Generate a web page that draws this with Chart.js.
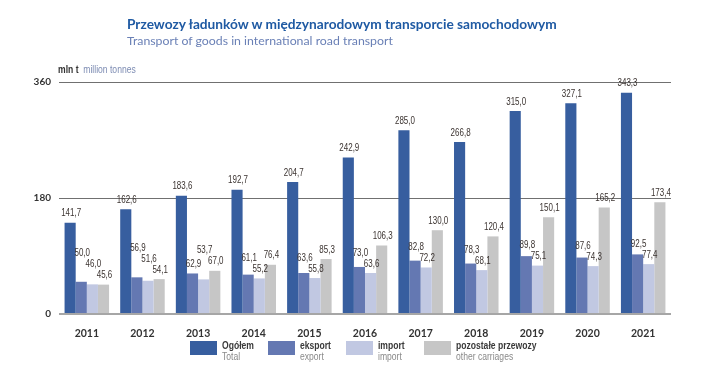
<!DOCTYPE html>
<html>
<head>
<meta charset="utf-8">
<script src="https://cdn.jsdelivr.net/npm/chart.js@4.4.1/dist/chart.umd.min.js"></script>
<style>
    html, body { margin: 0; padding: 0; background: #fff; }
    #wrap { position: relative; width: 711px; height: 377px; }
    #c { position: absolute; left: 0; top: 0; }
    .t { position: absolute; white-space: nowrap; font-family: Lato, 'Noto Sans', sans-serif; }
    .narrow { font-family: 'Liberation Sans', Arial, sans-serif; transform: scaleX(0.78); transform-origin: left top; white-space: nowrap; }
    .lg { position: absolute; top: 341px; }
    .sw { position: absolute; top: 0; left: 0; width: 27px; height: 14px; }
    .l1 { position: absolute; top: -2px; left: 41px; font-size: 11px; font-weight: bold; color: #3a3a3a; }
    .l2 { position: absolute; top: 9px; left: 41px; font-size: 11px; color: #8a8a8a; }
</style>
</head>
<body>
<div id="wrap">
    <canvas id="c" width="711" height="377"></canvas>
    <div class="t" style="left:127px; top:15px; font-size:13.7px; font-weight:bold; color:#1f5aa3;">Przewozy ładunków w międzynarodowym transporcie samochodowym</div>
    <div class="t" style="left:127px; top:33px; font-size:12.3px; color:#6a80b6;">Transport of goods in international road transport</div>
    <div class="t narrow" style="left:58px; top:63px; font-size:11px;"><b style="color:#333;">mln t</b>&nbsp; <span style="color:#7d8cb3;">million tonnes</span></div>
    <div id="legend"></div>
</div>
<script>
// values
const years = ['2011', '2012', '2013', '2014', '2015', '2016', '2017', '2018', '2019', '2020', '2021'];
const totalValues = [141.7, 162.6, 183.6, 192.7, 204.7, 242.9, 285.0, 266.8, 315.0, 327.1, 343.3];
const exportValues = [50.0, 56.9, 62.9, 61.1, 63.6, 73.0, 82.8, 78.3, 89.8, 87.6, 92.5];
const importValues = [46.0, 51.6, 53.7, 55.2, 55.8, 63.6, 72.2, 68.1, 75.1, 74.3, 77.4];
const otherValues = [45.6, 54.1, 67.0, 76.4, 85.3, 106.3, 130.0, 120.4, 150.1, 165.2, 173.4];
const yTicks = [0, 180, 360];

const seriesNames = [
    ['Ogółem', 'Total'],
    ['eksport', 'export'],
    ['import', 'import'],
    ['pozostałe przewozy', 'other carriages']
];
const colors = ['#375e9f', '#6478b2', '#c1c8e2', '#c6c6c6'];
const legendX = [190, 268, 346, 424];

// legend at the bottom (swatch outside the squeezed text)
const legendDiv = document.getElementById('legend');
seriesNames.forEach((n, i) => {
    const d = document.createElement('div');
    d.className = 'lg';
    d.style.left = legendX[i] + 'px';
    d.innerHTML = '<div class="sw" style="background:' + colors[i] + '"></div>' +
        '<div class="narrow" style="position:absolute;left:0;top:0;">' +
        '<div class="l1">' + n[0] + '</div>' +
        '<div class="l2">' + n[1] + '</div></div>';
    legendDiv.appendChild(d);
});

const SQUEEZE = 0.76;
const labelFont = "10.5px 'Liberation Sans', Arial, sans-serif";

// value labels above bars, moved up when they run into each other
const valueLabels = {
    id: 'valueLabels',
    afterDatasetsDraw(chart) {
        const ctx = chart.ctx;
        ctx.save();
        ctx.font = labelFont;
        ctx.fillStyle = '#3b3330';
        ctx.textAlign = 'center';
        ctx.textBaseline = 'bottom';
        const n = chart.data.labels.length;
        for (let i = 0; i < n; i++) {
            const placed = [];
            for (let d = chart.data.datasets.length - 1; d >= 0; d--) {
                const bar = chart.getDatasetMeta(d).data[i];
                const txt = chart.data.datasets[d].data[i].toFixed(1).replace('.', ',');
                const w = ctx.measureText(txt).width * SQUEEZE;
                const h = 10;
                const cx = bar.x + 1;
                let bottom = bar.y - 5;
                let moved = true;
                while (moved) {
                    moved = false;
                    for (const p of placed) {
                        const hOver = cx - w / 2 < p.r && cx + w / 2 > p.l;
                        const vOver = bottom - h < p.b && bottom > p.t;
                        if (hOver && vOver) {
                            bottom = p.t - 1;
                            moved = true;
                        }
                    }
                }
                placed.push({ l: cx - w / 2, r: cx + w / 2, t: bottom - h, b: bottom });
                ctx.save();
                ctx.translate(cx, bottom + 1);
                ctx.scale(SQUEEZE, 1);
                ctx.fillText(txt, 0, 0);
                ctx.restore();
            }
        }
        ctx.restore();
    }
};

const datasets = [totalValues, exportValues, importValues, otherValues].map((vals, i) => ({
    label: seriesNames[i][0],
    data: vals,
    backgroundColor: colors[i],
    borderWidth: 0,
    barPercentage: 1,
    categoryPercentage: 0.8
}));

const ctx = document.getElementById('c').getContext('2d');
const myChart = new Chart(ctx, {
    type: 'bar',
    data: {
        labels: years,
        datasets: datasets
    },
    options: {
        responsive: false,
        animation: false,
        layout: {
            padding: { top: 82, right: 40, left: 0, bottom: 0 }
        },
        plugins: {
            legend: { display: false },
            tooltip: { enabled: false }
        },
        scales: {
            x: {
                grid: { display: false },
                border: { display: false },
                ticks: {
                    padding: 5,
                    color: '#333',
                    font: { family: "Lato, sans-serif", size: 10.5, weight: 'bold' }
                },
                afterFit: scale => { scale.height = 63; }
            },
            y: {
                min: 0,
                max: 360,
                afterBuildTicks: scale => { scale.ticks = yTicks.map(v => ({ value: v })); },
                border: { display: false },
                grid: {
                    drawTicks: false,
                    color: c => c.tick && c.tick.value === 0 ? '#a6a6a6' : '#707070',
                    lineWidth: c => c.tick && c.tick.value === 0 ? 2 : 1
                },
                ticks: {
                    padding: 8,
                    color: '#333',
                    font: { family: "Lato, sans-serif", size: 10, weight: 'bold' }
                },
                afterFit: scale => { scale.width = 59; }
            }
        }
    },
    plugins: [valueLabels]
});
</script>
</body>
</html>
